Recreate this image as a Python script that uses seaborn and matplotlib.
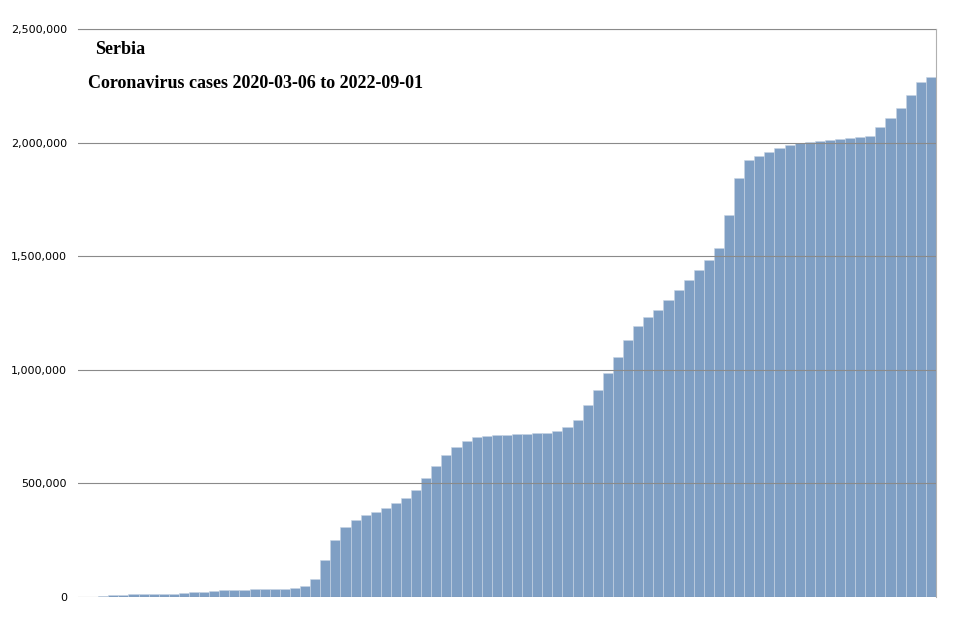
import matplotlib
matplotlib.use("Agg")
import matplotlib.pyplot as plt
import seaborn as sns
import pandas as pd
from matplotlib.ticker import FuncFormatter

# cumulative cases, sampled roughly every 10-11 days from 2020-03-06 to 2022-09-01
cases = [0, 1000, 3000, 8000, 10000, 11000, 12000, 13000, 14000, 15000, 17000,
         20000, 24000, 28000, 30000, 31000, 32000, 33000, 34000, 35000, 37000,
         40000, 50000, 80000, 163000, 250000, 308000, 339000, 361000, 374000,
         392000, 414000, 436000, 471000, 524000, 577000, 625000, 661000, 687000,
         705000, 709000, 712000, 714000, 716000, 718000, 720000, 722000, 731000,
         749000, 780000, 846000, 912000, 987000, 1057000, 1132000, 1194000,
         1233000, 1264000, 1308000, 1352000, 1396000, 1440000, 1485000, 1537000,
         1683000, 1846000, 1925000, 1943000, 1960000, 1978000, 1991000, 2000000,
         2004000, 2009000, 2013000, 2018000, 2022000, 2026000, 2031000, 2070000,
         2110000, 2154000, 2211000, 2269000, 2290000]
dates = [d.strftime("%Y-%m-%d") for d in
         pd.date_range("2020-03-06", "2022-09-01", periods=len(cases))]
df = pd.DataFrame({"date": dates, "cases": cases})

fig = plt.figure(figsize=(9.57, 6.18), dpi=100)
ax = fig.add_axes([0.0815, 0.034, 0.8965, 0.919])
sns.barplot(data=df, x="date", y="cases", ax=ax, color="#7f9fc4",
            width=1.0, edgecolor="#c8d5e4", linewidth=0.4, saturation=1)
ax.set_ylim(0, 2500000)
ax.set_xlim(-0.5, len(cases) - 0.5)
ax.set_yticks([0, 500000, 1000000, 1500000, 2000000, 2500000])
ax.yaxis.set_major_formatter(FuncFormatter(lambda v, p: f"{int(v):,}"))
ax.tick_params(axis="y", labelsize=8, length=0, pad=8)
ax.set_xticks([])
ax.set_xlabel("")
ax.set_ylabel("")
ax.grid(axis="y", color="#8a8a8a", linewidth=0.8)
ax.set_axisbelow(False)
for s in ax.spines.values():
    s.set_color("#b0b0b0")
    s.set_linewidth(0.8)
ax.spines["left"].set_visible(False)
ax.spines["bottom"].set_visible(False)
fig.text(95/957, 1 - 50/618, "Serbia", family="Liberation Serif",
         fontweight="bold", fontsize=13, va="center")
fig.text(88/957, 1 - 83/618, "Coronavirus cases 2020-03-06 to 2022-09-01",
         family="Liberation Serif", fontweight="bold", fontsize=13, va="center")
fig.savefig("out.png", dpi=100, facecolor="white")
